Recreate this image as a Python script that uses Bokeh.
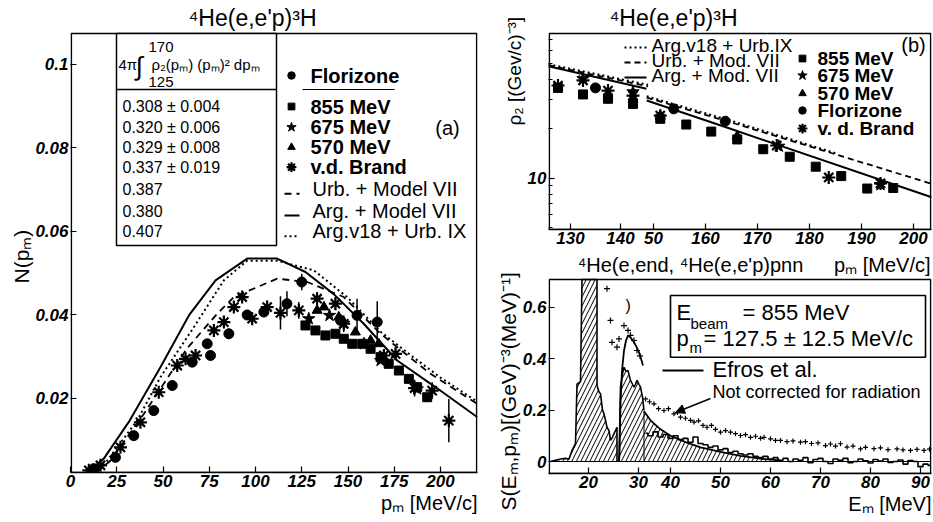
import math
from bokeh.plotting import figure
from bokeh.layouts import row, column
from bokeh.models import Range1d, FixedTicker, Label, Arrow, NormalHead, PrintfTickFormatter, Title
from bokeh.embed import file_html
from bokeh.resources import INLINE

FONT = "Liberation Sans"

# ================= DATA =================
# ---- panel (a): N(p_m) vs p_m ----
a_xticks = [0, 25, 50, 75, 100, 125, 150, 175, 200]
a_yticks = [0.02, 0.04, 0.06, 0.08, 0.1]

urb_mod7_pm = [14, 21.6, 39.6, 63, 79.3, 88.3, 111.7, 128, 147.7, 167.6, 194.6, 220]
urb_mod7_n = [0.0023, 0.0051, 0.0163, 0.0320, 0.0403, 0.0443, 0.0487, 0.0479, 0.0443, 0.0355, 0.0259, 0.0187]
arg_mod7_pm = [9, 18, 32, 48.6, 64, 78.4, 95.5, 111.7, 127, 142.3, 158.5, 176.6, 198, 220]
arg_mod7_n = [0.0023, 0.0056, 0.0147, 0.0275, 0.0399, 0.0483, 0.0535, 0.0535, 0.0503, 0.0450, 0.0379, 0.0291, 0.0225, 0.0155]
argv18_pm = [14, 19.8, 36, 48.6, 66.7, 82.9, 95.5, 111.7, 131.5, 149.5, 167.6, 185, 200, 220]
argv18_n = [0.0023, 0.0051, 0.0147, 0.0251, 0.0371, 0.0483, 0.0530, 0.0530, 0.0507, 0.0443, 0.0360, 0.0300, 0.0250, 0.0192]

flo_pm = [12.6, 24.3, 34.2, 45, 55, 65.8, 73.9, 75.7, 85.6, 95.5, 104.5, 117, 125, 146, 154.9, 165.8]
flo_n = [0.0032, 0.0059, 0.0111, 0.0171, 0.0231, 0.0287, 0.0331, 0.0303, 0.0355, 0.0400, 0.0407, 0.0427, 0.0479, 0.0387, 0.0399, 0.0383]
flo_err = [0.0004, 0.0005, 0.0006, 0.0007, 0.0008, 0.0009, 0.0009, 0.0009, 0.0012, 0.001, 0.001, 0.003, 0.002, 0.0015, 0.004, 0.005]

e855_pm = [127, 132.4, 137.8, 143.2, 147.7, 152.3, 157.7, 162.2, 167.6, 172, 177.5, 182.9, 187.4, 192.8]
e855_n = [0.0375, 0.0363, 0.0351, 0.0355, 0.0343, 0.0331, 0.0331, 0.0319, 0.0299, 0.0283, 0.0267, 0.0247, 0.0227, 0.0203]
e675_pm = [128.8, 140, 147.7, 158.6, 167.6, 187.4]
e675_n = [0.0391, 0.0399, 0.0380, 0.0331, 0.0291, 0.0223]
e570_pm = [133.3, 137, 145, 154, 162.2, 166.6]
e570_n = [0.0411, 0.0419, 0.0395, 0.0359, 0.0339, 0.0331]

vdb_pm = [9.9, 16.2, 27, 37.8, 47.7, 57.7, 62.2, 67.6, 77.5, 82.9, 88.3, 92.8, 98.2, 106.3,
          113.5, 123.4, 133.3, 143.2, 147.7, 169.4, 175.7, 186, 195.5, 204.5]
vdb_n = [0.0028, 0.0040, 0.0083, 0.0143, 0.0215, 0.0279, 0.0295, 0.0303, 0.0363, 0.0383, 0.0419, 0.0443, 0.0391, 0.0419,
         0.0405, 0.0411, 0.0439, 0.0427, 0.0379, 0.0303, 0.0307, 0.0225, 0.0219, 0.0147]
vdb_err = [0.0004, 0.0005, 0.0006, 0.0007, 0.0008, 0.001, 0.001, 0.001, 0.0012, 0.0012, 0.0012, 0.0012, 0.0015, 0.0015,
           0.004, 0.002, 0.0015, 0.0015, 0.002, 0.0015, 0.0015, 0.002, 0.002, 0.0052]

a_integrals = ["0.308 \u00b1 0.004", "0.320 \u00b1 0.006", "0.329 \u00b1 0.008", "0.337 \u00b1 0.019", "0.387", "0.380", "0.407"]

# ---- panel (b): rho_2(p_m), two glued sub-plots ----
b_ticks_left = [130, 140]
b_ticks_main = [150, 160, 170, 180, 190, 200]
b_tick_text = {130: "130", 140: "140", 150: "50", 160: "160", 170: "170", 180: "180", 190: "190", 200: "200"}

bl_e855_pm = [127.5, 132.5, 137.5, 142.5]
bl_e855_v = [35.4, 32.3, 30.4, 28.3]
bl_e675_pm = [132.5, 142.5]
bl_e675_v = [40.2, 33.5]
bl_e570_pm = [137.5, 142.5]
bl_e570_v = [31.5, 30.0]
bl_flo_pm = [135.0]
bl_flo_v = [35.4]
bl_vdb_pm = [127.5, 132.5, 137.5, 142.5]
bl_vdb_v = [36.6, 39.3, 34.1, 31.8]
bl_arg_pm = [125.6, 145.2]
bl_arg_v = [47.9, 35.0]
bl_urb_pm = [125.6, 145.5]
bl_urb_v = [48.6, 36.2]
bl_v18_pm = [125.6, 145.5]
bl_v18_v = [49.3, 37.0]

br_e855_pm = [151.3, 156.3, 161.1, 166.1, 171.1, 176.2, 181.2, 186.1, 191.1, 196.1]
br_e855_v = [22.96, 21.2, 19.2, 17.2, 15.0, 13.5, 11.75, 10.3, 8.65, 8.72]
br_e675_pm = [174.1, 193.65]
br_e675_v = [15.65, 9.12]
br_e570_pm = [151.3, 166.1]
br_e570_v = [24.0, 18.0]
br_flo_pm = [153.9, 163.8]
br_flo_v = [26.4, 22.2]
br_vdb_pm = [151.3, 173.7, 183.7, 193.65]
br_vdb_v = [24.0, 15.8, 10.1, 9.3]
br_arg_pm = [148.7, 164.8, 203.5]
br_arg_v = [29.7, 19.97, 7.66]
br_urb_pm = [148.7, 164.8, 203.5]
br_urb_v = [30.9, 21.9, 9.25]
br_v18_pm = [148.7, 164.8, 185]
br_v18_v = [31.5, 22.4, 14.2]

# ---- panel (c): S(E_m, p_m), two glued sub-plots ----
c_ticks_left = [20, 30]
c_ticks_main = [40, 50, 60, 70, 80, 90]
c_yticks = [0, 0.2, 0.4, 0.6]

hist1_em = [12.4, 13.4, 14.4, 15.4, 16.1, 16.7, 17.4, 17.7, 18.4, 18.7, 21.7, 21.7, 22.1, 22.4, 22.8, 23.1, 23.4,
            23.7, 24.1, 24.4, 24.8, 25.1, 25.4, 25.7, 25.7]
hist1_s = [0.0, 0.005, 0.01, 0.012, 0.01, 0.043, 0.069, 0.30, 0.31, 1.0, 1.0, 0.295, 0.27, 0.263, 0.2, 0.185, 0.16,
           0.133, 0.12, 0.082, 0.095, 0.108, 0.12, 0.133, 0.0]
hist2_em = [26.1, 26.4, 26.8, 27.1, 27.5, 27.9, 28.4, 28.8, 29.1, 29.4, 29.7, 30.1, 30.4, 30.8, 31.1]
hist2_s = [0.0, 0.289, 0.34, 0.366, 0.35, 0.353, 0.315, 0.30, 0.289, 0.30, 0.315, 0.30, 0.289, 0.25, 0.198]

efrosL_em = [26.1, 26.2, 26.4, 26.7, 27.1, 27.5, 27.9, 28.5, 29.1, 29.6, 30.1, 30.5, 30.9]
efrosL_s = [0.0, 0.03, 0.225, 0.353, 0.43, 0.47, 0.489, 0.48, 0.463, 0.445, 0.424, 0.40, 0.373]
efrosR_em = [34.7, 36, 38, 40, 43, 46, 50, 54, 58, 62]
efrosR_s = [0.195, 0.16, 0.125, 0.10, 0.075, 0.055, 0.037, 0.022, 0.011, 0.004]

dataR_em = list(range(35, 93))
dataR_s = [0.11, 0.10, 0.115, 0.095, 0.105, 0.09, 0.10, 0.085, 0.09, 0.075, 0.095, 0.07, 0.065, 0.055, 0.06,
           0.045, 0.05, 0.035, 0.04, 0.03, 0.025, 0.03, 0.02, 0.015, 0.02, 0.01, 0.015, 0.005, 0.012, 0.0,
           0.01, 0.005, 0.015, -0.005, 0.008, 0.012, 0.0, -0.008, 0.01, 0.005, 0.012, -0.005, 0.0, 0.01,
           0.003, -0.006, 0.008, 0.002, 0.01, -0.004, 0.0, 0.006, -0.01, 0.004, 0.0, -0.02, -0.01, -0.015]

rawL_em = [23.7, 24.4, 24.7, 25.7, 26.1, 27.1, 27.9, 28.4, 29.1, 29.7, 30.3]
rawL_s = [0.671, 0.548, 0.463, 0.444, 0.476, 0.528, 0.509, 0.49, 0.47, 0.431, 0.41]
rawR_em = [35, 35.8, 36.7, 37.6, 38.7, 39.6, 40.7, 41.4, 42, 43, 44, 44.7, 45.6, 46.5, 47.3, 48.2, 49, 50, 51,
           52, 53, 54, 55, 56, 57, 58, 58.7, 60, 61, 62, 63.3, 64.5, 66, 67, 68.2, 69.5, 71, 72, 73, 74, 75.3,
           76.5, 78, 79, 80.7, 82, 83.5, 85.3, 86.5, 88, 89.3, 90.7, 91.8]
rawR_s = [0.243, 0.232, 0.224, 0.205, 0.198, 0.205, 0.185, 0.19, 0.172, 0.168, 0.16, 0.153, 0.158, 0.14, 0.133,
          0.14, 0.125, 0.114, 0.12, 0.114, 0.108, 0.101, 0.104, 0.094, 0.098, 0.09, 0.094, 0.088, 0.082, 0.082,
          0.077, 0.08, 0.075, 0.077, 0.07, 0.072, 0.062, 0.068, 0.06, 0.069, 0.056, 0.06, 0.049, 0.055, 0.05,
          0.053, 0.046, 0.049, 0.045, 0.043, 0.047, 0.043, 0.048]


# ================= HELPERS (reference-pixel -> data) =================
def a_xy(X, Y):
    return (X - 70) / 1.85, (481.5 - Y) * 0.0002395


def b_xy(X, Y):
    return 200 + (X - 913) / 5.2, 10 * 10 ** ((177.7 - Y) / 164.5)


def b_left_x(X):
    return 130 + (X - 570) / 5.0


def c_xy(X, Y):
    return 40 + (X - 670) / 5.0, (461 - Y) / 257.5


def c_left_x(X):
    return 20 + (X - 588) / 5.0


def make_fig(w, h, xr, yr, bl, br, bt, bb, log=False):
    p = figure(width=w, height=h, x_range=xr, y_range=yr, y_axis_type="log" if log else "linear",
               output_backend="svg", toolbar_location=None, title=None,
               min_border_left=bl, min_border_right=br, min_border_top=bt, min_border_bottom=bb)
    p.background_fill_color = "white"
    p.border_fill_color = "white"
    # the frame reaches up to the top of each canvas; the visible box is drawn as a quad
    p.outline_line_color = None
    p.grid.visible = False
    for ax in p.axis:
        ax.axis_line_width = 1.6
        ax.axis_line_color = "black"
        ax.major_tick_in = 6
        ax.major_tick_out = 0
        ax.minor_tick_in = 0
        ax.minor_tick_out = 0
        ax.major_tick_line_width = 1.2
        ax.major_tick_line_color = "black"
        ax.minor_tick_line_color = "black"
        ax.major_label_text_color = "black"
        ax.major_label_text_font = FONT
        ax.major_label_text_font_style = "bold italic"
        ax.major_label_text_font_size = "17px"
        ax.major_label_standoff = 2
    p.yaxis.axis_line_color = None
    return p


def box(p, x0, x1, y0, y1):
    p.quad(left=[x0], right=[x1], bottom=[y0], top=[y1], fill_color=None, line_color="black", line_width=1.6)


def title(p, text, side, size, align="center", offset=0, standoff=0):
    p.add_layout(Title(text=text, align=align, offset=offset, standoff=standoff, text_font=FONT,
                       text_font_size=f"{size}px", text_font_style="normal", text_color="black"), side)


def lab(p, x, y, text, size, style="normal", align="left", baseline="middle", angle=0.0, rn="default"):
    p.add_layout(Label(x=x, y=y, text=text, x_range_name=rn, text_font=FONT, text_font_size=f"{size}px",
                       text_font_style=style, text_align=align, text_baseline=baseline, angle=angle,
                       text_color="black"))


def markers(p, x, y, kind, rn="default", scale=1.0):
    if kind == "flo":
        p.scatter(x, y, marker="circle", size=10 * scale, fill_color="black", line_color="black", x_range_name=rn)
    elif kind == "sq":
        p.scatter(x, y, marker="square", size=9 * scale, fill_color="black", line_color="black", x_range_name=rn)
    elif kind == "star":
        p.scatter(x, y, marker="star", size=13 * scale, fill_color="black", line_color="black", x_range_name=rn)
    elif kind == "tri":
        p.scatter(x, y, marker="triangle", size=10 * scale, fill_color="black", line_color="black", x_range_name=rn)
    elif kind == "ast":
        p.scatter(x, y, marker="asterisk", size=13 * scale, line_color="black", line_width=2.2, x_range_name=rn)


# ================= PANEL (a) =================
ax0, ay0 = a_xy(70, 472)
ax1, ay_box = a_xy(477, 33)
_, ay_top = a_xy(0, 0)
pa = make_fig(480, 520, Range1d(ax0, ax1), Range1d(ay0, ay_top), 70, 3, 0, 48)
pa.xaxis.ticker = FixedTicker(ticks=a_xticks)
pa.yaxis.ticker = FixedTicker(ticks=a_yticks)
pa.xaxis.formatter = PrintfTickFormatter(format="%g")
pa.yaxis.formatter = PrintfTickFormatter(format="%g")
box(pa, a_xy(70.8, 0)[0], a_xy(476.2, 0)[0], ay0, ay_box)

pa.line(urb_mod7_pm, urb_mod7_n, line_color="black", line_width=1.8, line_dash="7 5")
pa.line(arg_mod7_pm, arg_mod7_n, line_color="black", line_width=2)
pa.line(argv18_pm, argv18_n, line_color="black", line_width=2, line_dash="2 3")

pa.segment(flo_pm, [n - e for n, e in zip(flo_n, flo_err)], flo_pm, [n + e for n, e in zip(flo_n, flo_err)],
           line_color="black", line_width=1.5)
pa.segment(vdb_pm, [n - e for n, e in zip(vdb_n, vdb_err)], vdb_pm, [n + e for n, e in zip(vdb_n, vdb_err)],
           line_color="black", line_width=1.5)
markers(pa, e855_pm, e855_n, "sq")
markers(pa, e570_pm, e570_n, "tri")
markers(pa, e675_pm, e675_n, "star")
markers(pa, flo_pm, flo_n, "flo")
markers(pa, vdb_pm, vdb_n, "ast")

# integral box
bx0, by0 = a_xy(116, 245)
bx1, by1 = a_xy(276, 33)
pa.quad(left=[bx0], right=[bx1], bottom=[by0], top=[by1], fill_color="white", line_color="black", line_width=1.5)
_, ysep = a_xy(0, 89)
pa.segment([bx0], [ysep], [bx1], [ysep], line_color="black", line_width=1.5)
lab(pa, *a_xy(148, 46), "170", 15)
lab(pa, *a_xy(118, 64), "4\u03c0", 15)
lab(pa, *a_xy(135, 65), "\u222b", 26)
lab(pa, *a_xy(151, 64), "\u03c1\u2082(p\u2098) (p\u2098)\u00b2 dp\u2098", 15)
lab(pa, *a_xy(148, 81), "125", 15)
rows_Y = [106, 126.7, 146.7, 166.7, 188.3, 210, 230.7]
for t, Y in zip(a_integrals, rows_Y):
    lab(pa, *a_xy(122, Y), t, 16)

# legend (a)
leg_rows = [(75, "Florizone", "flo"), (106, "855 MeV", "sq"), (126.7, "675 MeV", "star"),
            (146.7, "570 MeV", "tri"), (166.7, "v.d. Brand", "ast")]
for Y, t, k in leg_rows:
    mx, my = a_xy(291, Y)
    markers(pa, [mx], [my], k, scale=0.75)
    lab(pa, *a_xy(310, Y), t, 20, style="bold")
ux0, uy = a_xy(302, 89)
ux1, _ = a_xy(394, 89)
pa.segment([ux0], [uy], [ux1], [uy], line_color="black", line_width=1.2)
for Y, t, dash in [(188.3, "Urb. + Model VII", "7 5"), (210, "Arg. + Model VII", "solid"),
                   (230.7, "Arg.v18 + Urb. IX", "2 3")]:
    lx0, ly = a_xy(284, Y + 5)
    lx1, _ = a_xy(299, Y + 5)
    pa.line([lx0, lx1], [ly, ly], line_color="black", line_width=2, line_dash=dash)
    lab(pa, *a_xy(312, Y), t, 20)
lab(pa, *a_xy(447, 127), "(a)", 20, align="center")

lab(pa, *a_xy(252, 17), "\u2074He(e,e'p)\u00b3H", 23, align="center")
title(pa, "N(p\u2098)", "left", 21, align="left", offset=189, standoff=0)
title(pa, "p\u2098 [MeV/c]", "below", 20, align="right", standoff=0)

# ================= PANEL (b) =================
bm0, by_lo = b_xy(548, 229)
bm1, by_box = b_xy(931, 33)
_, by_top = b_xy(0, 0)
bl0, bl1 = b_left_x(548), b_left_x(931)
pb = make_fig(452, 251, Range1d(bm0, bm1), Range1d(by_lo, by_top), 68, 1, 0, 22, log=True)
pb.extra_x_ranges = {"left": Range1d(bl0, bl1)}
box(pb, b_xy(548.8, 0)[0], b_xy(930.2, 0)[0], by_lo, by_box)


def b_conv(t):
    return round(bm0 + (t - bl0) * (bm1 - bm0) / (bl1 - bl0), 4)


b_tick_pos = [b_conv(t) for t in b_ticks_left] + b_ticks_main
pb.xaxis.ticker = FixedTicker(ticks=b_tick_pos)
pb.xaxis.major_label_overrides = {pos: b_tick_text[t] for pos, t in zip(b_tick_pos, b_ticks_left + b_ticks_main)}
pb.yaxis.ticker = FixedTicker(ticks=[10], minor_ticks=[5, 6, 7, 8, 9, 20, 30, 40, 50, 60, 70])
pb.yaxis.major_label_overrides = {10: "10"}
pb.yaxis.minor_tick_in = 4

for rn, (xs, ys) in [("left", (bl_urb_pm, bl_urb_v)), ("default", (br_urb_pm, br_urb_v))]:
    pb.line(xs, ys, line_color="black", line_width=1.8, line_dash="6 4", x_range_name=rn)
for rn, (xs, ys) in [("left", (bl_arg_pm, bl_arg_v)), ("default", (br_arg_pm, br_arg_v))]:
    pb.line(xs, ys, line_color="black", line_width=2, x_range_name=rn)
for rn, (xs, ys) in [("left", (bl_v18_pm, bl_v18_v)), ("default", (br_v18_pm, br_v18_v))]:
    pb.line(xs, ys, line_color="black", line_width=2, line_dash="2 3", x_range_name=rn)

markers(pb, bl_e855_pm, bl_e855_v, "sq", "left")
markers(pb, bl_e570_pm, bl_e570_v, "tri", "left")
markers(pb, bl_e675_pm, bl_e675_v, "star", "left")
markers(pb, bl_flo_pm, bl_flo_v, "flo", "left")
markers(pb, bl_vdb_pm, bl_vdb_v, "ast", "left")
markers(pb, br_e855_pm, br_e855_v, "sq")
markers(pb, br_e570_pm, br_e570_v, "tri")
markers(pb, br_e675_pm, br_e675_v, "star")
markers(pb, br_flo_pm, br_flo_v, "flo")
markers(pb, br_vdb_pm, br_vdb_v, "ast")

for Y, t, dash in [(45, "Arg.v18 + Urb.IX", "2 3"), (60, "Urb. + Mod. VII", "6 4"), (75, "Arg. + Mod. VII", "solid")]:
    lx0, ly = b_xy(624, Y + 2)
    lx1, _ = b_xy(646, Y + 2)
    pb.line([lx0, lx1], [ly, ly], line_color="black", line_width=2, line_dash=dash)
    lab(pb, *b_xy(651, Y), t, 19)
for Y, t, k in [(58, "855 MeV", "sq"), (75, "675 MeV", "star"), (93, "570 MeV", "tri"),
                (110, "Florizone", "flo"), (128, "v. d. Brand", "ast")]:
    mx, my = b_xy(802, Y)
    markers(pb, [mx], [my], k, scale=0.75)
    lab(pb, *b_xy(817, Y), t, 19, style="bold")
lab(pb, *b_xy(913, 44), "(b)", 20, align="center")
lab(pb, *b_xy(673, 17), "\u2074He(e,e'p)\u00b3H", 23, align="center")
title(pb, "\u03c1\u2082 [(Gev/c)\u207b\u00b3]", "left", 19, align="left", offset=104, standoff=0)

# ================= PANEL (c) =================
cm0, cy_lo = c_xy(548, 473)
cm1, _ = c_xy(931, 0)
_, cy_top = c_xy(0, 251)
_, cy_box = c_xy(0, 279)
cl0, cl1 = c_left_x(548), c_left_x(931)
pc = make_fig(452, 269, Range1d(cm0, cm1), Range1d(cy_lo, cy_top), 68, 1, 0, 47)
pc.extra_x_ranges = {"left": Range1d(cl0, cl1)}


def c_conv(t):
    return round(cm0 + (t - cl0) * (cm1 - cm0) / (cl1 - cl0), 4)


c_tick_pos = [c_conv(t) for t in c_ticks_left] + c_ticks_main
pc.xaxis.ticker = FixedTicker(ticks=c_tick_pos)
pc.xaxis.major_label_overrides = {pos: str(t) for pos, t in zip(c_tick_pos, c_ticks_left + c_ticks_main)}
pc.yaxis.ticker = FixedTicker(ticks=c_yticks)
pc.yaxis.formatter = PrintfTickFormatter(format="%g")

fx0, _ = c_xy(548.8, 0)
fx1, _ = c_xy(930.2, 0)
box(pc, fx0, fx1, cy_lo, cy_box)
pc.segment([fx0], [0], [fx1], [0], line_color="black", line_width=1)

h1_top = [min(s, cy_box) for s in hist1_s]
hatch = dict(fill_alpha=0, hatch_pattern="/", hatch_color="black", hatch_scale=9, hatch_weight=1)
pc.varea(x=hist1_em, y1=[0] * len(hist1_em), y2=h1_top, x_range_name="left", **hatch)
pc.varea(x=hist2_em, y1=[0] * len(hist2_em), y2=hist2_s, x_range_name="left", **hatch)
pc.varea(x=efrosR_em, y1=[0] * len(efrosR_em), y2=efrosR_s, **hatch)
pc.line(hist1_em, h1_top, line_color="black", line_width=1.6, x_range_name="left")
pc.line(hist2_em, hist2_s, line_color="black", line_width=1.6, x_range_name="left")
pc.line(efrosL_em, efrosL_s, line_color="black", line_width=1.8, x_range_name="left")
pc.line(efrosR_em, efrosR_s, line_color="black", line_width=1.8)
pc.segment([efrosR_em[0]], [0], [efrosR_em[0]], [efrosR_s[0]], line_color="black", line_width=1)
pc.step(dataR_em, dataR_s, mode="center", line_color="black", line_width=1.6)
pc.scatter(rawL_em, rawL_s, marker="cross", size=6, line_color="black", line_width=1.2, x_range_name="left")
pc.scatter(rawR_em, rawR_s, marker="cross", size=5, line_color="black", line_width=1.2)

kx0, ky0 = c_xy(670, 356.7)
kx1, ky1 = c_xy(925, 295)
pc.quad(left=[kx0], right=[kx1], bottom=[ky0], top=[ky1], fill_color="white", line_color="black", line_width=1.6)
lab(pc, *c_xy(676, 312), "E", 22)
lab(pc, *c_xy(690, 323), "beam", 15)
lab(pc, *c_xy(742, 312), "= 855 MeV", 22)
lab(pc, *c_xy(676, 338), "p", 22)
lab(pc, *c_xy(689, 347), "m", 15)
lab(pc, *c_xy(703, 338), "= 127.5 \u00b1 12.5 MeV/c", 22)

ex0, ey = c_xy(662, 370)
ex1, _ = c_xy(703, 370)
pc.line([ex0, ex1], [ey, ey], line_color="black", line_width=2)
lab(pc, *c_xy(712, 369), "Efros et al.", 22)
lab(pc, *c_xy(712, 391), "Not corrected for radiation", 18)
ax_s, ay_s = c_xy(710, 398)
ax_e, ay_e = c_xy(675, 412)
pc.add_layout(Arrow(end=NormalHead(size=9, fill_color="black", line_color="black"),
                    x_start=ax_s, y_start=ay_s, x_end=ax_e, y_end=ay_e, line_color="black", line_width=1.5))
lab(pc, c_left_x(643), c_xy(0, 305)[1], ")", 16)

lab(pc, *c_xy(690, 264), "\u2074He(e,end, \u2074He(e,e'p)pnn", 20, align="center")
lab(pc, *c_xy(930, 264), "p\u2098 [MeV/c]", 20, align="right")
title(pc, "E\u2098 [MeV]", "below", 20, align="right", standoff=0)
title(pc, "S(E\u2098,p\u2098)[(GeV)\u207b\u00b3(MeV)\u207b\u00b9]", "left", 21, align="left", offset=-37, standoff=0)

layout = row(pa, column(pb, pc))
open("out.html", "w").write(file_html(layout, INLINE))
